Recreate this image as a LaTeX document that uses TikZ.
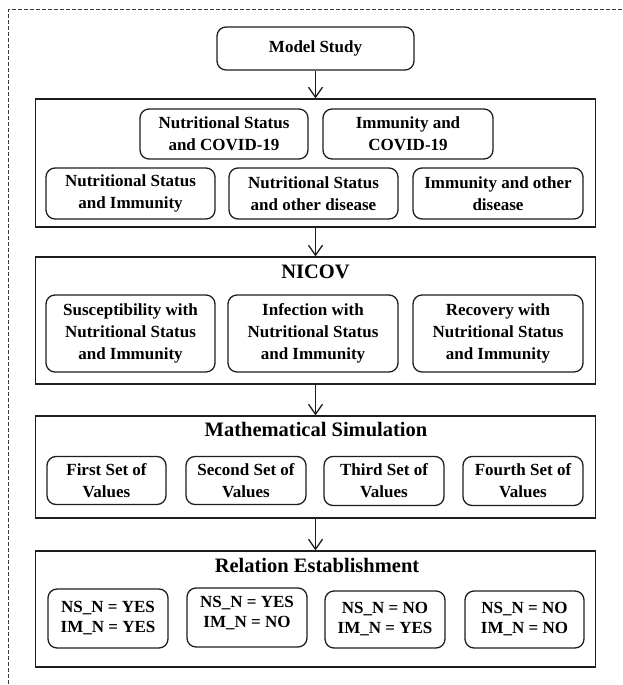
\documentclass[tikz,border=0pt]{standalone}
\usepackage{fontspec}
\setmainfont{Liberation Serif}
\usetikzlibrary{arrows.meta}
\definecolor{linec}{HTML}{1E1E1E}
\definecolor{dashc}{HTML}{3A3A3A}
\newcommand\mybody{\bfseries\fontsize{17}{22}\selectfont}
\newcommand\mytight{\bfseries\fontsize{17}{20}\selectfont}
\newcommand\mytitle{\bfseries\fontsize{20.5}{24}\selectfont}
\tikzset{
  rbox/.style={draw=linec, line width=1.3pt, rounded corners=9pt, inner sep=0pt, align=center, font=\mybody},
  ebox/.style={rbox, font=\mytight},
  outerbox/.style={draw=linec, line width=1.3pt, inner sep=0pt},
  titletext/.style={inner sep=0pt, font=\mytitle},
  arr/.style={draw=linec, line width=1.3pt, -{Straight Barb[length=10pt,width=14pt,line width=1.3pt]}},
  frame/.style={draw=dashc, line width=1pt, dash pattern=on 4pt off 2pt}
}
\begin{document}
\begin{tikzpicture}[x=1pt,y=-1pt]
\useasboundingbox (0,0) rectangle (622,685);
\clip (0,0) rectangle (622,685);
\fill[white] (0,0) rectangle (622,685);
\coordinate (fa) at (8,690);
\coordinate (fb) at (8,10);
\coordinate (fc) at (630,10);
\draw[frame] (fa) -- (fb) -- (fc);

\node[rbox, minimum width=197pt, minimum height=43pt] (ms) at (315.5,48.5) {Model Study};

\node[outerbox, minimum width=560pt, minimum height=128pt] (b1) at (315.5,163) {};
\node[rbox, minimum width=168pt, minimum height=50pt] (a1) at (224,134) {Nutritional Status\\and COVID-19};
\node[rbox, minimum width=170pt, minimum height=50pt] (a2) at (408,134) {Immunity and\\COVID-19};
\node[rbox, minimum width=169pt, minimum height=51pt] (a3) at (130.5,193.5) {Nutritional Status\\and Immunity};
\node[rbox, minimum width=169pt, minimum height=51pt] (a4) at (313.5,193.5) {Nutritional Status\\and other disease};
\node[rbox, minimum width=170pt, minimum height=51pt] (a5) at (498,193.5) {Immunity and other\\disease};

\node[outerbox, minimum width=560pt, minimum height=127pt] (b2) at (315.5,320.5) {};
\node[titletext] (t2) at (315.5,272) {NICOV};
\node[rbox, minimum width=169pt, minimum height=77pt] (c1) at (130.5,333.5) {Susceptibility with\\Nutritional Status\\and Immunity};
\node[rbox, minimum width=170pt, minimum height=77pt] (c2) at (313,333.5) {Infection with\\Nutritional Status\\and Immunity};
\node[rbox, minimum width=170pt, minimum height=77pt] (c3) at (498,333.5) {Recovery with\\Nutritional Status\\and Immunity};

\node[outerbox, minimum width=560pt, minimum height=102pt] (b3) at (315.5,467) {};
\node[titletext] (t3) at (316,430) {Mathematical Simulation};
\node[rbox, minimum width=119pt, minimum height=48pt] (d1) at (106.5,480.5) {First Set of\\Values};
\node[rbox, minimum width=120pt, minimum height=48pt] (d2) at (246,480.5) {Second Set of\\Values};
\node[rbox, minimum width=120pt, minimum height=49pt] (d3) at (384,481) {Third Set of\\Values};
\node[rbox, minimum width=120pt, minimum height=49pt] (d4) at (523,481) {Fourth Set of\\Values};

\node[outerbox, minimum width=560pt, minimum height=116pt] (b4) at (315.5,609) {};
\node[titletext] (t4) at (317,565) {Relation Establishment};
\node[ebox, minimum width=120pt, minimum height=59pt] (e1) at (108,618.5) {NS\_N = YES\\IM\_N = YES};
\node[ebox, minimum width=120pt, minimum height=59pt, text depth=12pt] (e2) at (247,617.5) {NS\_N = YES\\IM\_N = NO};
\node[ebox, minimum width=120pt, minimum height=57pt] (e3) at (385,619.5) {NS\_N = NO\\IM\_N = YES};
\node[ebox, minimum width=119pt, minimum height=57pt] (e4) at (524.5,619.5) {NS\_N = NO\\IM\_N = NO};

\draw[arr] (ms.south) -- (b1.north);
\draw[arr] (b1.south) -- (b2.north);
\draw[arr] (b2.south) -- (b3.north);
\draw[arr] (b3.south) -- (b4.north);
\end{tikzpicture}
\end{document}
